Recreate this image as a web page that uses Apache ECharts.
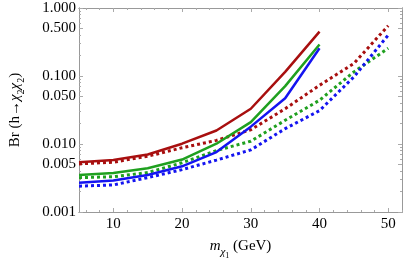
<!DOCTYPE html>
<html>
<head>
<meta charset="utf-8">
<script src="https://cdn.jsdelivr.net/npm/echarts@6/dist/echarts.min.js"></script>
<style>html,body{margin:0;padding:0;background:#fff;}#c{width:407px;height:265px;}</style>
</head>
<body>
<div id="c"></div>
<script>
var xSolid = [5, 10, 15, 20, 25, 30, 35, 40];
var xDotted = [5, 10, 15, 20, 25, 30, 35, 40, 45, 50];
var redSolid = [0.0054, 0.0058, 0.0070, 0.0101, 0.0158, 0.033, 0.115, 0.45];
var greenSolid = [0.0035, 0.00375, 0.0044, 0.0059, 0.0101, 0.021, 0.071, 0.29];
var blueSolid = [0.0027, 0.0029, 0.0035, 0.0047, 0.0076, 0.018, 0.047, 0.256];
var redDotted = [0.0051, 0.0054, 0.0066, 0.0088, 0.0113, 0.0162, 0.033, 0.073, 0.153, 0.55];
var greenDotted = [0.0032, 0.0033, 0.0038, 0.0053, 0.0080, 0.011, 0.0223, 0.044, 0.115, 0.256];
var blueDotted = [0.0024, 0.0025, 0.0032, 0.0042, 0.0058, 0.0082, 0.0168, 0.031, 0.097, 0.40];
var xMajorTicks = [10, 20, 30, 40, 50];
var xMinorTicks = [6, 8, 12, 14, 16, 18, 22, 24, 26, 28, 32, 34, 36, 38, 42, 44, 46, 48, 52];
var yMajorTicks = [0.001, 0.005, 0.01, 0.05, 0.1, 0.5, 1];
var yMinorTicks = [0.002, 0.003, 0.004, 0.006, 0.007, 0.008, 0.009,
                   0.02, 0.03, 0.04, 0.06, 0.07, 0.08, 0.09,
                   0.2, 0.3, 0.4, 0.6, 0.7, 0.8, 0.9];

var FONT = '"Liberation Serif", "DejaVu Serif", serif';
var FRAME = '#999';
var TICK = '#aaa';
var RED = '#a80f0f', GREEN = '#1fa01f', BLUE = '#1414f0';

function zip(xs, ys) { return xs.map(function (x, i) { return [x, ys[i]]; }); }

function xAx(pos, ticks, len, labels, extra) {
  var a = {
    type: 'value', position: pos, min: 5, max: 52,
    axisLine: { show: true, onZero: false, lineStyle: { color: FRAME, width: 1 } },
    axisTick: { show: true, inside: true, length: len, customValues: ticks, lineStyle: { color: TICK } },
    axisLabel: labels ? { show: true, customValues: xMajorTicks, fontFamily: FONT, fontSize: 15, color: '#000', margin: 5 } : { show: false },
    splitLine: { show: false }
  };
  for (var k in extra) a[k] = extra[k];
  return a;
}
function yAx(pos, ticks, len, labels, extra) {
  var a = {
    type: 'log', logBase: 10, position: pos, min: 0.001, max: 1,
    axisLine: { show: true, onZero: false, lineStyle: { color: FRAME, width: 1 } },
    axisTick: { show: true, inside: true, length: len, customValues: ticks, lineStyle: { color: TICK } },
    axisLabel: labels ? { show: true, customValues: yMajorTicks, fontFamily: FONT, fontSize: 15, color: '#000', margin: 3,
      formatter: function (v) { return Number(v).toFixed(3); } } : { show: false },
    splitLine: { show: false }
  };
  for (var k in extra) a[k] = extra[k];
  return a;
}

var chart = echarts.init(document.getElementById('c'), null, { renderer: 'canvas' });
chart.setOption({
  animation: false,
  backgroundColor: '#fff',
  grid: { left: 73, right: 5, top: 8, bottom: 53, containLabel: false },
  xAxis: [
    xAx('bottom', xMajorTicks, 4, true, {
      name: '{i|m}{s|χ}{ss|1}{n| (GeV)}', nameLocation: 'middle', nameGap: 27,
      nameTextStyle: { fontFamily: FONT, color: '#000', rich: {
        i: { fontFamily: FONT, fontStyle: 'italic', fontSize: 15, color: '#000', verticalAlign: 'bottom' },
        s: { fontFamily: FONT, fontStyle: 'italic', fontSize: 11, color: '#000', verticalAlign: 'bottom', padding: [0, 0, -4, 0] },
        ss: { fontFamily: FONT, fontSize: 8, color: '#000', verticalAlign: 'bottom', padding: [0, 0, -6, 0] },
        n: { fontFamily: FONT, fontSize: 15, color: '#000', verticalAlign: 'bottom' }
      } }
    }),
    xAx('bottom', xMinorTicks, 2, false, {}),
    xAx('top', xMajorTicks, 4, false, {}),
    xAx('top', xMinorTicks, 2, false, {})
  ],
  yAxis: [
    yAx('left', yMajorTicks, 4, true, {
      name: '{n|Br (h→}{i|χ}{s|2}{i|χ}{s|2}{n|)}', nameLocation: 'middle', nameGap: 56, nameRotate: 90,
      nameTextStyle: { fontFamily: FONT, color: '#000', rich: {
        n: { fontFamily: FONT, fontSize: 15, color: '#000', verticalAlign: 'bottom' },
        i: { fontFamily: FONT, fontStyle: 'italic', fontSize: 15, color: '#000', verticalAlign: 'bottom' },
        s: { fontFamily: FONT, fontSize: 10, color: '#000', verticalAlign: 'bottom', padding: [0, 0, -3, 0] }
      } }
    }),
    yAx('left', yMinorTicks, 2, false, {}),
    yAx('right', yMajorTicks, 4, false, {}),
    yAx('right', yMinorTicks, 2, false, {})
  ],
  series: [
    { type: 'line', data: zip(xSolid, redSolid), showSymbol: false, lineStyle: { color: RED, width: 2.5 }, z: 3 },
    { type: 'line', data: zip(xSolid, greenSolid), showSymbol: false, lineStyle: { color: GREEN, width: 2.5 }, z: 3 },
    { type: 'line', data: zip(xSolid, blueSolid), showSymbol: false, lineStyle: { color: BLUE, width: 2.5 }, z: 3 },
    { type: 'line', data: zip(xDotted, redDotted), showSymbol: false, lineStyle: { color: RED, width: 3, type: [3, 3] }, z: 2 },
    { type: 'line', data: zip(xDotted, greenDotted), showSymbol: false, lineStyle: { color: GREEN, width: 3, type: [3, 3] }, z: 2 },
    { type: 'line', data: zip(xDotted, blueDotted), showSymbol: false, lineStyle: { color: BLUE, width: 3, type: [3, 3] }, z: 2 }
  ]
});
</script>
</body>
</html>
